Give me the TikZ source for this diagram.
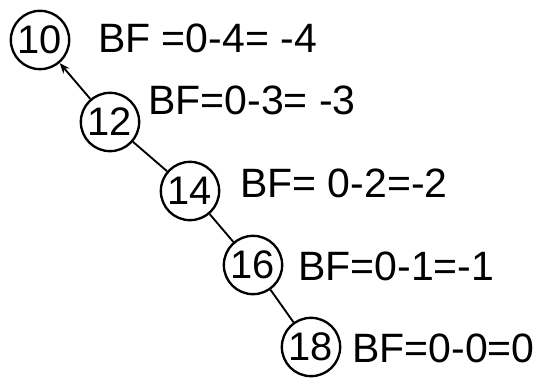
\documentclass[tikz,border=0pt]{standalone}
\usepackage{fontspec}
\setmainfont{Liberation Sans}
\usepackage{tikz}
\usetikzlibrary{arrows.meta}

\tikzset{
  avlnode/.style={draw,circle,line width=2pt,minimum size=1.75cm,inner sep=0pt,font=\fontsize{34}{38}\selectfont},
  bflabel/.style={anchor=west,inner sep=0pt,font=\fontsize{35}{40}\selectfont},
  avledge/.style={line width=1.6pt}
}

\begin{document}
\begin{tikzpicture}[x=1cm,y=1cm]
\path[use as bounding box] (0,0) rectangle (16.08,11.37);
% chain of nodes
\node[avlnode] (n10) at (1.20,10.17) {10};
\node[avlnode] (n12) at (3.30,7.71) {12};
\node[avlnode] (n14) at (5.70,5.64) {14};
\node[avlnode] (n16) at (7.59,3.42) {16};
\node[avlnode] (n18) at (9.33,0.96) {18};
\draw[avledge,-{Stealth[length=9pt,width=7pt]}] (n12) -- (n10);
\draw[avledge] (n12) -- (n14);
\draw[avledge] (n14) -- (n16);
\draw[avledge] (n16) -- (n18);
% balance factors
\node[bflabel] (bf10) at (2.94,10.23) {BF =0-4= -4};
\node[bflabel] (bf12) at (4.44,8.37) {BF=0-3= -3};
\node[bflabel] (bf14) at (7.20,5.88) {BF= 0-2=-2};
\node[bflabel] (bf16) at (8.94,3.39) {BF=0-1=-1};
\node[bflabel] (bf18) at (10.56,0.93) {BF=0-0=0};
\end{tikzpicture}
\end{document}
